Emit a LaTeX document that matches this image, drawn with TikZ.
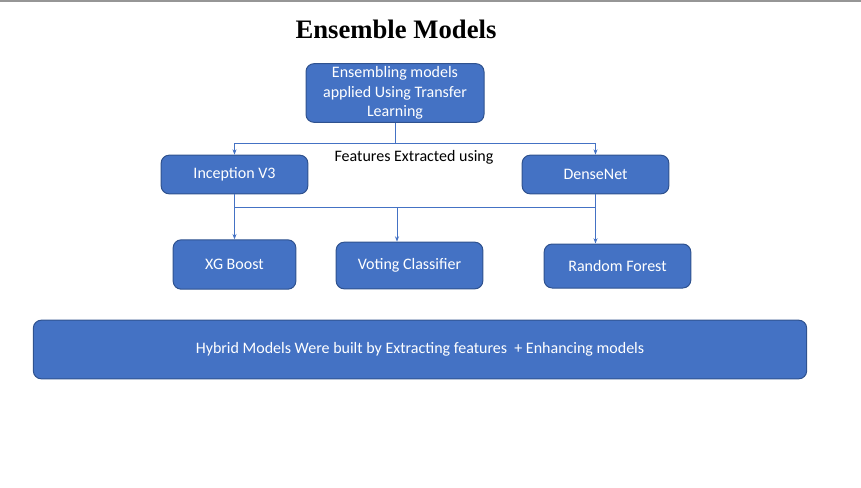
\documentclass[tikz,border=0pt]{standalone}
\usepackage{fontspec}
\setmainfont{Carlito}
\newfontfamily\titlefont{Liberation Serif}
\usetikzlibrary{arrows.meta,positioning,calc}
\definecolor{boxblue}{RGB}{68,114,196}
\definecolor{boxedge}{RGB}{47,82,143}
\definecolor{topgray}{RGB}{150,150,150}

\tikzset{
    model/.style={draw=boxedge, fill=boxblue, line width=0.75pt, rounded corners=6pt,
        text=white, align=center, inner sep=0pt, font=\fontsize{12}{14.6}\selectfont},
    link/.style={draw=boxblue, line width=0.75pt},
    tip/.style={-{Stealth[length=4pt,width=3pt]}}
}

\begin{document}
\begin{tikzpicture}[x=0.75pt, y=-0.75pt]
    \useasboundingbox (0,0) rectangle (861,487);
    \draw[topgray, line width=1.5pt] (0,0.5) -- (861,0.5);
    % Title
    \node[font=\titlefont\bfseries\fontsize{20}{24}\selectfont] (title) at (396,29) {Ensemble Models};
    % Boxes
    \node[model, minimum width=133.5pt, minimum height=44pt] (ensemble) at (395,93)
        {Ensembling models\\applied Using Transfer\\Learning};
    \node[model, minimum width=110pt, minimum height=29pt] (inception) at (234.5,174.5) {Inception V3};
    \node[model, minimum width=110pt, minimum height=29pt] (densenet) at (595.5,174.5) {DenseNet};
    \node[model, minimum width=92pt, minimum height=37pt] (xgboost) at (234.5,264.5) {XG Boost};
    \node[model, minimum width=110pt, minimum height=35pt] (voting) at (409.5,265.5) {Voting Classifier};
    \node[model, minimum width=110pt, minimum height=33pt] (forest) at (617.5,266) {Random Forest};
    \node[model, minimum width=580pt, minimum height=44pt] (hybrid) at (420,349.5)
        {Hybrid Models Were built by Extracting features\ \ + Enhancing models};
    \node[font=\fontsize{12}{14}\selectfont] (features) at (414,157.5) {Features Extracted using};
    % Upper split
    \coordinate (splitA) at (395,143);
    \draw[link] (ensemble.south) -- (splitA);
    \draw[link,tip] (splitA) -| (inception.north);
    \draw[link,tip] (splitA) -| (densenet.north);
    % Lower split
    \coordinate (splitB) at (397,207);
    \draw[link] (inception.south |- splitB) -- (densenet.south |- splitB);
    \draw[link,tip] (inception.south) -- (xgboost.north);
    \draw[link,tip] (splitB) -- (splitB |- voting.north);
    \draw[link,tip] (densenet.south) -- (densenet.south |- forest.north);
\end{tikzpicture}
\end{document}
